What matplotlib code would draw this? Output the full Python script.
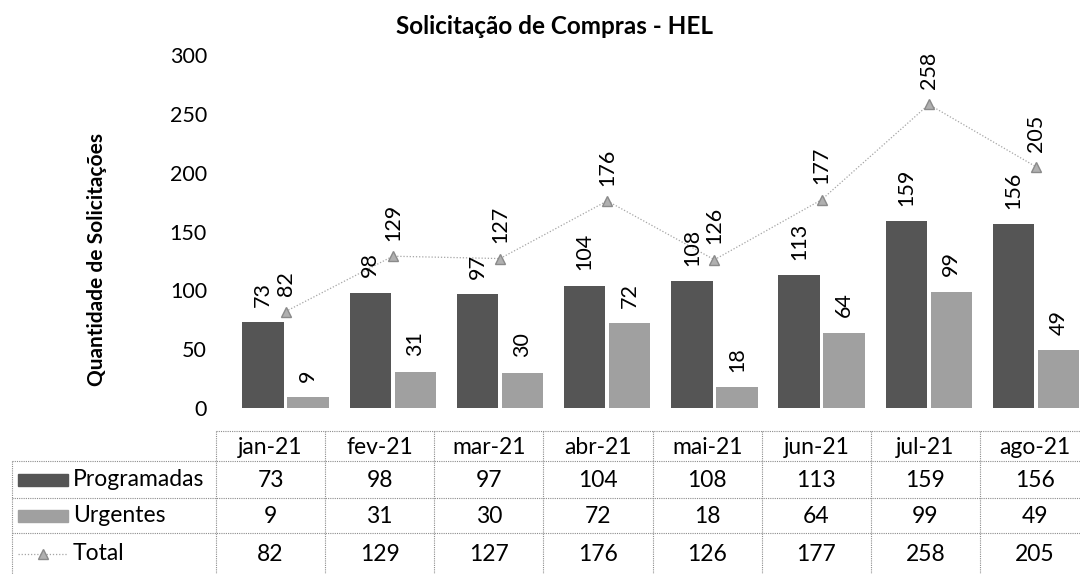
import numpy as np
import matplotlib
matplotlib.use('Agg')
import matplotlib.pyplot as plt
from matplotlib.patches import Rectangle

meses = ['jan-21', 'fev-21', 'mar-21', 'abr-21', 'mai-21', 'jun-21', 'jul-21', 'ago-21']
programadas = [73, 98, 97, 104, 108, 113, 159, 156]
urgentes = [9, 31, 30, 72, 18, 64, 99, 49]
total = [82, 129, 127, 176, 126, 177, 258, 205]

cor_prog = '#555555'
cor_urg = '#a0a0a0'
cor_total = '#a5a5a5'

plt.rcParams['font.family'] = ['Lato', 'DejaVu Sans']
plt.rcParams['font.size'] = 15

W, H = 1080, 574
fig = plt.figure(figsize=(W / 100, H / 100), dpi=100)

# area do grafico (pixels convertidos para fracao da figura)
left, right, top, bottom = 232, 1089.6, 55, 408
ax = fig.add_axes([left / W, 1 - bottom / H, (right - left) / W, (bottom - top) / H])

x = np.arange(len(meses))
larg = 0.385
desl = 0.21
ax.bar(x - desl, programadas, larg, color=cor_prog)
ax.bar(x + desl, urgentes, larg, color=cor_urg)
ax.plot(x, total, color=cor_total, lw=0.9, linestyle=(0, (1, 1.5)),
        marker='^', markersize=7, markerfacecolor='#b0b0b0', markeredgecolor='#8a8a8a')

# rotulos de dados na vertical
for xs, vals in [(x - desl, programadas), (x + desl, urgentes), (x, total)]:
    for xi, v in zip(xs, vals):
        ax.annotate(str(v), (xi, v), xytext=(0, 11), textcoords='offset points',
                    rotation=90, ha='center', va='bottom', fontsize=15.5,
                    annotation_clip=False)

ax.set_xlim(-0.5, len(meses) - 0.5)
ax.set_ylim(0, 300)
ax.set_yticks(range(0, 301, 50))
ax.set_xticks([])
ax.tick_params(axis='y', length=0, pad=(left - 207) * 0.72, labelsize=15.5)
for s in ax.spines.values():
    s.set_visible(False)
ax.set_ylabel('Quantidade de Solicitações', fontsize=15, fontweight='bold', labelpad=0)
ax.yaxis.set_label_coords(-(left - 107) / (right - left), 0.42)

fig.text(554 / W, 1 - 26 / H, 'Solicitação de Compras - HEL', ha='center', va='center',
         fontsize=17.5, fontweight='bold')

# tabela de dados abaixo do grafico
tb = fig.add_axes([0, 0, 1, 1])
tb.set_xlim(0, W)
tb.set_ylim(H, 0)
tb.axis('off')

col0, col_w = 216, 109.15
cols = [col0 + i * col_w for i in range(len(meses) + 1)]
leg_x = 12
rows = [431, 461, 498, 533, 574]
estilo = dict(color='#8c8c8c', lw=0.8, linestyle=(0, (1, 1)))

tb.plot([col0, cols[-1]], [rows[0], rows[0]], **estilo)
for yy in rows[1:4]:
    tb.plot([leg_x, cols[-1]], [yy, yy], **estilo)
for xx in cols:
    tb.plot([xx, xx], [rows[0], rows[-1]], **estilo)
tb.plot([leg_x, leg_x], [rows[1], rows[-1]], **estilo)

for i, m in enumerate(meses):
    cx = (cols[i] + cols[i + 1]) / 2
    tb.text(cx, (rows[0] + rows[1]) / 2 + 1, m, ha='center', va='center', fontsize=16.5)
    for r, serie in enumerate([programadas, urgentes, total]):
        tb.text(cx, (rows[r + 1] + rows[r + 2]) / 2 + 1, str(serie[i]),
                ha='center', va='center', fontsize=16.5)

nomes = ['Programadas', 'Urgentes', 'Total']
for r, nome in enumerate(nomes):
    cy = (rows[r + 1] + rows[r + 2]) / 2
    tb.text(73, cy, nome, ha='left', va='center', fontsize=16.5)
    if r < 2:
        tb.add_patch(Rectangle((18, cy - 6), 50, 12, color=[cor_prog, cor_urg][r]))
    else:
        tb.plot([18, 68], [cy, cy], color=cor_total, lw=0.9, linestyle=(0, (1, 1.5)))
        tb.plot([43], [cy], marker='^', markersize=7, color='#b0b0b0',
                markeredgecolor='#8a8a8a')

fig.savefig('out.png', dpi=100)
